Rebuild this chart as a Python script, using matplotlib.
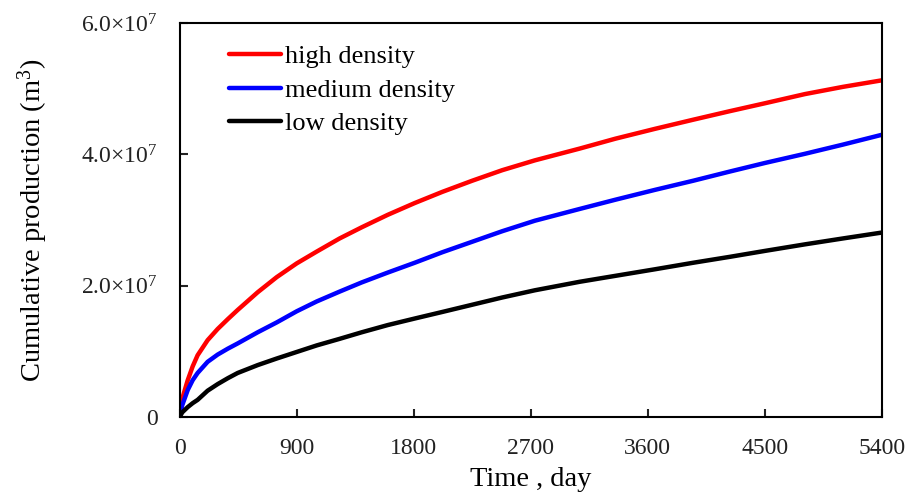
import matplotlib
matplotlib.use("Agg")
import matplotlib.pyplot as plt
from matplotlib.ticker import FixedLocator, FuncFormatter

plt.rcParams['font.family'] = ['Liberation Serif', 'DejaVu Serif']
plt.rcParams['mathtext.fontset'] = 'custom'
plt.rcParams['mathtext.rm'] = 'Liberation Serif'
plt.rcParams['mathtext.it'] = 'Liberation Serif:italic'

# Cumulative production (units of 1e7 m^3) versus time (days)
days = [0, 20, 62, 100, 138, 215, 292, 370, 446, 600, 746, 900, 1054, 1230,
        1400, 1600, 1808, 2020, 2250, 2480, 2731, 3077, 3350, 3654, 3950,
        4231, 4500, 4808, 5100, 5400]
high_density = [0, 0.28, 0.56, 0.77, 0.94, 1.17, 1.34, 1.49, 1.63, 1.90, 2.13,
                2.34, 2.52, 2.72, 2.89, 3.08, 3.26, 3.43, 3.60, 3.76, 3.91,
                4.09, 4.24, 4.39, 4.53, 4.66, 4.78, 4.92, 5.03, 5.13]
medium_density = [0, 0.18, 0.41, 0.56, 0.67, 0.84, 0.95, 1.04, 1.12, 1.29,
                  1.44, 1.61, 1.76, 1.91, 2.05, 2.20, 2.35, 2.51, 2.67, 2.83,
                  2.99, 3.17, 3.31, 3.46, 3.60, 3.74, 3.87, 4.01, 4.15, 4.30]
low_density = [0, 0.07, 0.15, 0.21, 0.26, 0.40, 0.50, 0.59, 0.67, 0.79, 0.89,
               0.99, 1.09, 1.19, 1.29, 1.40, 1.50, 1.60, 1.71, 1.82, 1.93,
               2.06, 2.15, 2.25, 2.35, 2.44, 2.53, 2.63, 2.72, 2.81]

x_ticks = [0, 900, 1800, 2700, 3600, 4500, 5400]
y_ticks = [0, 2.0e7, 4.0e7, 6.0e7]

fig = plt.figure(figsize=(9.12, 4.94), dpi=100)
ax = fig.add_axes([0.197, 0.156, 0.770, 0.797])

scale = 1e7
ax.plot(days, [v * scale for v in high_density], color='#ff0000', lw=3.2,
        label='high density', solid_capstyle='round', solid_joinstyle='round')
ax.plot(days, [v * scale for v in medium_density], color='#0000ff', lw=3.2,
        label='medium density', solid_capstyle='round', solid_joinstyle='round')
ax.plot(days, [v * scale for v in low_density], color='#000000', lw=3.2,
        label='low density', solid_capstyle='round', solid_joinstyle='round')

ax.set_xlim(0, 5400)
ax.set_ylim(0, 6.0e7)
ax.xaxis.set_major_locator(FixedLocator(x_ticks))
ax.yaxis.set_major_locator(FixedLocator(y_ticks))


def sci_fmt(v, pos):
    if v == 0:
        return '0'
    exp = 7
    return r'%.1f×10$^{%d}$' % (v / 10 ** exp, exp)


ax.yaxis.set_major_formatter(FuncFormatter(sci_fmt))

for sp in ax.spines.values():
    sp.set_linewidth(1.5)
ax.tick_params(direction='in', length=6, width=1.5, labelsize=17,
               colors='#222222')
ax.tick_params(axis='x', pad=15)
ax.tick_params(axis='y', pad=16)

ax.set_xlabel('Time , day', fontsize=20.5, labelpad=6)
ax.set_ylabel('Cumulative production (m$^3$)', fontsize=20.5, labelpad=22)

leg = ax.legend(loc='upper left', frameon=False, fontsize=19,
                bbox_to_anchor=(0.037, 1.005), handlelength=1.95,
                handletextpad=0.15, labelspacing=0.38)

fig.savefig('out.png', dpi=100)
